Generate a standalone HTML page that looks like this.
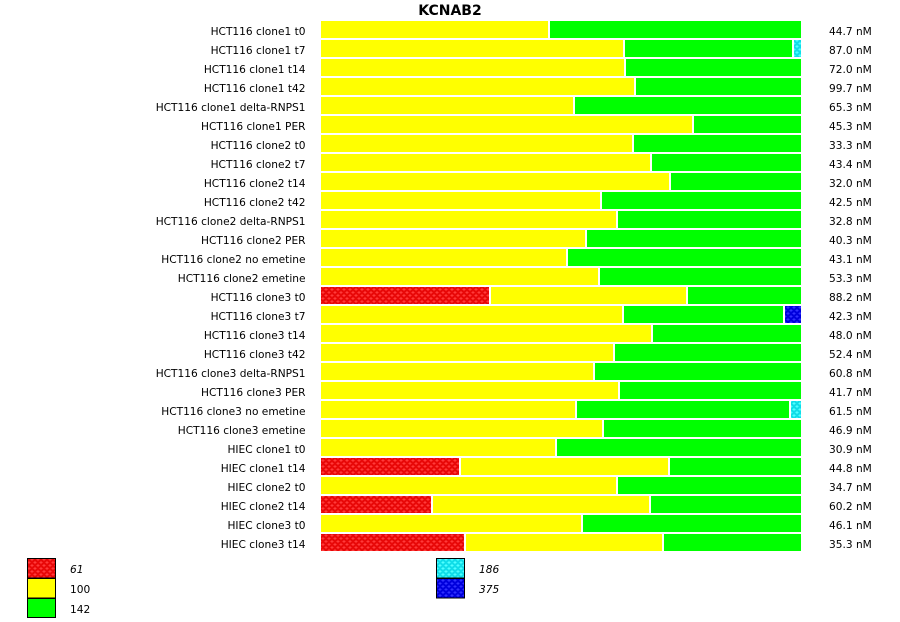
<!DOCTYPE html>
<html><head><meta charset="utf-8"><style>
html,body{margin:0;padding:0;background:#fff;}
svg{display:block;}
text{font-family:"DejaVu Sans","Liberation Sans",sans-serif;font-size:10.6px;fill:#000;}
.l{text-anchor:end;}
.t{font-size:14px;font-weight:bold;text-anchor:middle;}
.i{font-style:italic;}
</style></head><body>
<svg width="900" height="622" viewBox="0 0 900 622" xmlns="http://www.w3.org/2000/svg">
<defs>
<pattern id="pr" width="6" height="6" patternUnits="userSpaceOnUse">
<rect width="6" height="6" fill="#e80808"/>
<path d="M0.5 1.5h3M2 0v3M3.5 4.5h3M5 3v3M-2.5 4.5h3" stroke="#ff3a3a" stroke-width="1"/>
</pattern>
<pattern id="pc" width="6" height="6" patternUnits="userSpaceOnUse">
<rect width="6" height="6" fill="#10dde8"/>
<path d="M0.5 1.5h3M2 0v3M3.5 4.5h3M5 3v3M-2.5 4.5h3" stroke="#50ffff" stroke-width="1"/>
</pattern>
<pattern id="pb" width="6" height="6" patternUnits="userSpaceOnUse">
<rect width="6" height="6" fill="#0000dd"/>
<path d="M0.5 1.5h3M2 0v3M3.5 4.5h3M5 3v3M-2.5 4.5h3" stroke="#3030ff" stroke-width="1"/>
</pattern>
</defs>
<rect width="900" height="622" fill="#fff"/>
<text class="t" x="450" y="15">KCNAB2</text>

<g fill="#ffff00">
<rect x="321" y="21" width="227" height="17"/>
<rect x="321" y="40" width="302" height="17"/>
<rect x="321" y="59" width="303" height="17"/>
<rect x="321" y="78" width="313" height="17"/>
<rect x="321" y="97" width="252" height="17"/>
<rect x="321" y="116" width="371" height="17"/>
<rect x="321" y="135" width="311" height="17"/>
<rect x="321" y="154" width="329" height="17"/>
<rect x="321" y="173" width="348" height="17"/>
<rect x="321" y="192" width="279" height="17"/>
<rect x="321" y="211" width="295" height="17"/>
<rect x="321" y="230" width="264" height="17"/>
<rect x="321" y="249" width="245" height="17"/>
<rect x="321" y="268" width="277" height="17"/>
<rect x="491" y="287" width="195" height="17"/>
<rect x="321" y="306" width="301" height="17"/>
<rect x="321" y="325" width="330" height="17"/>
<rect x="321" y="344" width="292" height="17"/>
<rect x="321" y="363" width="272" height="17"/>
<rect x="321" y="382" width="297" height="17"/>
<rect x="321" y="401" width="254" height="17"/>
<rect x="321" y="420" width="281" height="17"/>
<rect x="321" y="439" width="234" height="17"/>
<rect x="461" y="458" width="207" height="17"/>
<rect x="321" y="477" width="295" height="17"/>
<rect x="433" y="496" width="216" height="17"/>
<rect x="321" y="515" width="260" height="17"/>
<rect x="466" y="534" width="196" height="17"/>
</g>
<g fill="#00ff00">
<rect x="550" y="21" width="251" height="17"/>
<rect x="625" y="40" width="167" height="17"/>
<rect x="626" y="59" width="175" height="17"/>
<rect x="636" y="78" width="165" height="17"/>
<rect x="575" y="97" width="226" height="17"/>
<rect x="694" y="116" width="107" height="17"/>
<rect x="634" y="135" width="167" height="17"/>
<rect x="652" y="154" width="149" height="17"/>
<rect x="671" y="173" width="130" height="17"/>
<rect x="602" y="192" width="199" height="17"/>
<rect x="618" y="211" width="183" height="17"/>
<rect x="587" y="230" width="214" height="17"/>
<rect x="568" y="249" width="233" height="17"/>
<rect x="600" y="268" width="201" height="17"/>
<rect x="688" y="287" width="113" height="17"/>
<rect x="624" y="306" width="159" height="17"/>
<rect x="653" y="325" width="148" height="17"/>
<rect x="615" y="344" width="186" height="17"/>
<rect x="595" y="363" width="206" height="17"/>
<rect x="620" y="382" width="181" height="17"/>
<rect x="577" y="401" width="212" height="17"/>
<rect x="604" y="420" width="197" height="17"/>
<rect x="557" y="439" width="244" height="17"/>
<rect x="670" y="458" width="131" height="17"/>
<rect x="618" y="477" width="183" height="17"/>
<rect x="651" y="496" width="150" height="17"/>
<rect x="583" y="515" width="218" height="17"/>
<rect x="664" y="534" width="137" height="17"/>
</g>
<g fill="url(#pr)">
<rect x="321" y="287" width="168" height="17"/>
<rect x="321" y="458" width="138" height="17"/>
<rect x="321" y="496" width="110" height="17"/>
<rect x="321" y="534" width="143" height="17"/>
</g>
<rect x="794" y="40" width="7" height="17" fill="url(#pc)"/>
<rect x="791" y="401" width="10" height="17" fill="url(#pc)"/>
<rect x="785" y="306" width="16" height="17" fill="url(#pb)"/>

<g class="lab">
<text class="l" x="305.5" y="35">HCT116 clone1 t0</text>
<text class="l" x="305.5" y="54">HCT116 clone1 t7</text>
<text class="l" x="305.5" y="73">HCT116 clone1 t14</text>
<text class="l" x="305.5" y="92">HCT116 clone1 t42</text>
<text class="l" x="305.5" y="111">HCT116 clone1 delta-RNPS1</text>
<text class="l" x="305.5" y="130">HCT116 clone1 PER</text>
<text class="l" x="305.5" y="149">HCT116 clone2 t0</text>
<text class="l" x="305.5" y="168">HCT116 clone2 t7</text>
<text class="l" x="305.5" y="187">HCT116 clone2 t14</text>
<text class="l" x="305.5" y="206">HCT116 clone2 t42</text>
<text class="l" x="305.5" y="225">HCT116 clone2 delta-RNPS1</text>
<text class="l" x="305.5" y="244">HCT116 clone2 PER</text>
<text class="l" x="305.5" y="263">HCT116 clone2 no emetine</text>
<text class="l" x="305.5" y="282">HCT116 clone2 emetine</text>
<text class="l" x="305.5" y="301">HCT116 clone3 t0</text>
<text class="l" x="305.5" y="320">HCT116 clone3 t7</text>
<text class="l" x="305.5" y="339">HCT116 clone3 t14</text>
<text class="l" x="305.5" y="358">HCT116 clone3 t42</text>
<text class="l" x="305.5" y="377">HCT116 clone3 delta-RNPS1</text>
<text class="l" x="305.5" y="396">HCT116 clone3 PER</text>
<text class="l" x="305.5" y="415">HCT116 clone3 no emetine</text>
<text class="l" x="305.5" y="434">HCT116 clone3 emetine</text>
<text class="l" x="305.5" y="453">HIEC clone1 t0</text>
<text class="l" x="305.5" y="472">HIEC clone1 t14</text>
<text class="l" x="305.5" y="491">HIEC clone2 t0</text>
<text class="l" x="305.5" y="510">HIEC clone2 t14</text>
<text class="l" x="305.5" y="529">HIEC clone3 t0</text>
<text class="l" x="305.5" y="548">HIEC clone3 t14</text>
</g>
<g>
<text x="829" y="35">44.7 nM</text>
<text x="829" y="54">87.0 nM</text>
<text x="829" y="73">72.0 nM</text>
<text x="829" y="92">99.7 nM</text>
<text x="829" y="111">65.3 nM</text>
<text x="829" y="130">45.3 nM</text>
<text x="829" y="149">33.3 nM</text>
<text x="829" y="168">43.4 nM</text>
<text x="829" y="187">32.0 nM</text>
<text x="829" y="206">42.5 nM</text>
<text x="829" y="225">32.8 nM</text>
<text x="829" y="244">40.3 nM</text>
<text x="829" y="263">43.1 nM</text>
<text x="829" y="282">53.3 nM</text>
<text x="829" y="301">88.2 nM</text>
<text x="829" y="320">42.3 nM</text>
<text x="829" y="339">48.0 nM</text>
<text x="829" y="358">52.4 nM</text>
<text x="829" y="377">60.8 nM</text>
<text x="829" y="396">41.7 nM</text>
<text x="829" y="415">61.5 nM</text>
<text x="829" y="434">46.9 nM</text>
<text x="829" y="453">30.9 nM</text>
<text x="829" y="472">44.8 nM</text>
<text x="829" y="491">34.7 nM</text>
<text x="829" y="510">60.2 nM</text>
<text x="829" y="529">46.1 nM</text>
<text x="829" y="548">35.3 nM</text>
</g>

<g stroke="#000" stroke-width="1">
<rect x="27.5" y="558.5" width="28" height="19.5" fill="url(#pr)"/>
<rect x="27.5" y="578.5" width="28" height="19.5" fill="#ffff00"/>
<rect x="27.5" y="598.5" width="28" height="19" fill="#00ff00"/>
<rect x="436.5" y="558.5" width="28" height="19.5" fill="url(#pc)"/>
<rect x="436.5" y="578.5" width="28" height="19.5" fill="url(#pb)"/>
</g>
<text class="i" x="70" y="573">61</text>
<text x="70" y="593">100</text>
<text x="70" y="613">142</text>
<text class="i" x="479" y="573">186</text>
<text class="i" x="479" y="593">375</text>
</svg>
</body></html>
